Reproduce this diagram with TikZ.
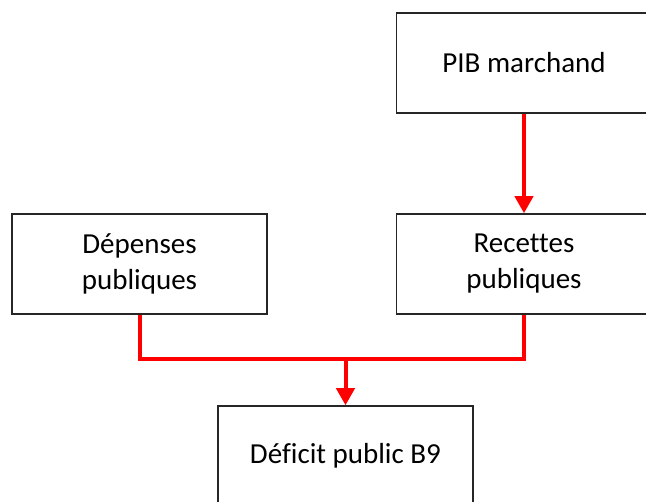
\documentclass[tikz,border=0pt]{standalone}
\usepackage{fontspec}
\setmainfont{Carlito}[Ligatures = NoCommon]
\usetikzlibrary{arrows.meta}

\tikzset{
	box/.style = {draw = black!85, line width = 1.5pt, minimum width = 255pt, minimum height = 100pt, align = center, inner sep = 0pt, font = \fontsize{29}{36}\selectfont},
	redline/.style = {draw = red, line width = 4pt},
	redarrow/.style = {redline, -{Triangle[width = 18pt, length = 17pt]}}
}

\begin{document}
\begin{tikzpicture} [x = 1pt, y = -1pt]
	\useasboundingbox (0,0) rectangle (646,502);
	\clip (0,0) rectangle (646,502);
	\node [box] (pib) at (524,63) {PIB marchand};
	\node [box] (depenses) at (139.5,264) {Dépenses\\publiques};
	\node [box] (recettes) at (524,264) {Recettes\\publiques};
	\node [box] (deficit) at (345.5,456) {Déficit public B9};
	\coordinate (join) at (345.5,359);
	\draw [redarrow] (pib) -- (recettes);
	\draw [redline] (depenses.south) |- (join) -| (recettes.south);
	\draw [redarrow] (join) -- (deficit.north);
\end{tikzpicture}
\end{document}
